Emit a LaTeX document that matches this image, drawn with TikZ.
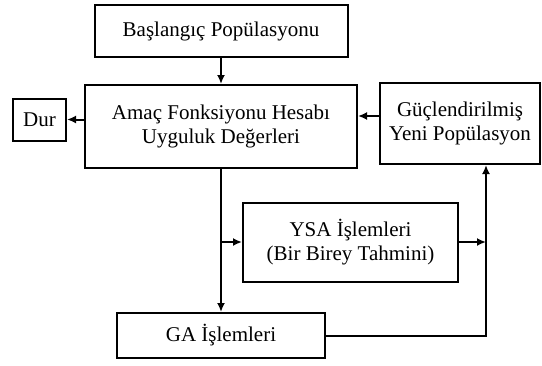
\documentclass[tikz,border=0pt]{standalone}
\usepackage{fontspec}
\setmainfont{Liberation Serif}
\usetikzlibrary{arrows.meta}

\begin{document}
\begin{tikzpicture}[>={Latex[length=9pt,width=8pt]}, x=1pt, y=-1pt, line width=2pt,
    box/.style={draw, align=center, inner sep=2pt, font=\fontsize{21}{24}\selectfont}]
  \useasboundingbox (0,0) rectangle (542,365);
  \node[box, minimum width=253pt, minimum height=52pt] (start) at (221,31) {Başlangıç Popülasyonu};
  \node[box, minimum width=272pt, minimum height=83pt] (fit) at (221,126.5) {Amaç Fonksiyonu Hesabı\\Uyguluk Değerleri};
  \node[box, minimum width=53pt, minimum height=42pt] (dur) at (39.5,119.5) {Dur};
  \node[box, minimum width=160pt, minimum height=81pt] (newpop) at (460,123.5) {Güçlendirilmiş\\Yeni Popülasyon};
  \node[box, minimum width=215pt, minimum height=79pt] (ysa) at (350.5,242) {YSA İşlemleri\\(Bir Birey Tahmini)};
  \node[box, minimum width=208pt, minimum height=45pt] (ga) at (221,335.5) {GA İşlemleri};
  \coordinate (split) at (fit.south |- ysa.west);
  \coordinate (riser) at (486,335.5);
  \draw[->] (start) -- (fit);
  \draw[->] (fit.west |- dur.east) -- (dur.east);
  \draw[->] ([yshift=7.5pt]newpop.west) -- ([yshift=7.5pt]newpop.west -| fit.east);
  \draw[->] (fit.south) -- (ga.north);
  \draw[->] (split) -- (ysa.west);
  \draw[->] (ysa.east) -- (ysa.east -| riser);
  \draw[->] (ga.east) -- (riser) -- (riser |- newpop.south);
\end{tikzpicture}
\end{document}
